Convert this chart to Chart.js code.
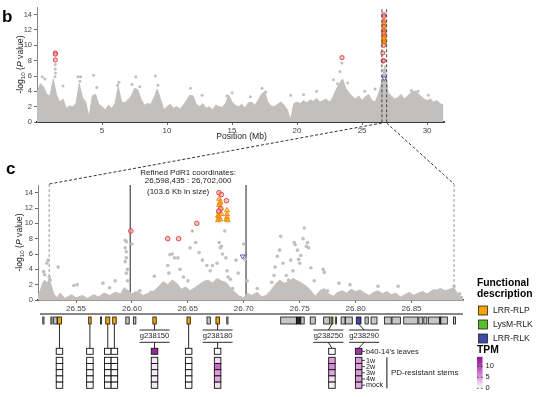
<!DOCTYPE html>
<html>
<head>
<meta charset="utf-8">
<script src="https://cdn.jsdelivr.net/npm/chart.js@4.4.0/dist/chart.umd.min.js"></script>
<style>
  body { margin: 0; background: #fff; }
  #wrap { position: relative; width: 546px; height: 397px; }
  canvas { position: absolute; left: 0; top: 0; }
</style>
</head>
<body>
<div id="wrap">
  <canvas id="chartB" width="546" height="397"></canvas>
  <canvas id="chartC" width="546" height="397"></canvas>
</div>
<script>
// ---- data ----
// panel b: upper edge of the dense SNP cloud (Mb / -log10 P)
const bEnvMb = [0,0.25,0.5,0.75,1,1.25,1.5,1.75,2,2.25,2.5,2.75,3,3.25,3.5,3.75,4,4.25,4.5,4.75,
  5,5.25,5.5,5.75,6,6.25,6.5,6.75,7,7.25,7.5,7.75,8,8.25,8.5,8.75,9,9.25,9.5,9.75,
  10,10.25,10.5,10.75,11,11.25,11.5,11.75,12,12.25,12.5,12.75,13,13.25,13.5,13.75,14,14.25,14.5,14.75,
  15,15.25,15.5,15.75,16,16.25,16.5,16.75,17,17.25,17.5,17.75,18,18.25,18.5,18.75,19,19.25,19.5,19.75,
  20,20.25,20.5,20.75,21,21.25,21.5,21.75,22,22.25,22.5,22.75,23,23.25,23.5,23.75,24,24.25,24.5,24.75,
  25,25.25,25.5,25.75,26,26.25,26.5,26.75,27,27.25,27.5,27.75,28,28.25,28.5,28.75,29,29.25,29.5,29.75,
  30,30.25,30.5,30.75,31,31.25]
const bEnvVal = [3.8,5.0,4.6,3.6,3.4,5.6,3.5,2.6,3.0,1.8,2.1,2.0,2.4,5.0,3.2,2.6,0.6,3.4,3.6,2.3,
  2.0,1.6,2.2,1.8,2.4,4.6,2.6,2.5,2.9,3.4,4.4,4.2,3.0,2.2,2.4,2.3,3.2,4.3,3.0,1.6,
  2.0,2.3,1.8,2.0,1.7,2.2,2.8,3.5,3.4,2.3,2.0,2.4,1.8,2.0,1.6,2.2,2.0,1.9,2.4,3.5,
  2.6,2.2,2.0,2.3,1.8,2.5,2.6,2.2,2.8,3.6,4.0,2.6,2.1,2.0,2.3,2.6,2.2,1.6,0.3,2.4,
  2.6,2.4,2.8,2.5,2.9,2.7,3.1,2.6,2.8,3.0,2.6,3.2,4.2,5.0,5.6,4.4,3.8,3.3,3.0,3.4,
  2.8,3.3,3.6,2.8,2.6,3.6,5.0,7.4,3.8,3.4,3.0,3.2,3.6,3.0,3.4,3.8,4.0,3.8,3.4,3.0,
  2.8,3.0,2.6,2.8,2.4,2.2]
// panel b: isolated grey SNPs above the cloud
const bDotMb  = [0.4,0.6,1.4,1.4,1.42,1.38,2.0,3.15,3.35,3.3,4.35,4.6,6.3,6.2,7.6,7.3,7.9,9.1,9.3,11.8,
  15.0,17.3,17.6,19.5,22.8,23.3,23.45,23.1,23.9,26.55,26.6,26.7,26.55,28.8,29.1,29.3,30.1,12.7,14.6,16.4,20.5,21.5,25.2,26.0]
const bDotVal = [5.9,5.6,7.5,6.9,6.4,5.9,4.7,5.9,5.9,5.3,6.1,4.5,5.2,4.8,5.9,4.9,4.6,6.0,4.8,4.4,
  3.8,4.4,3.9,3.5,5.5,6.6,7.7,5.0,5.1,6.0,7.8,6.8,5.0,4.1,3.9,4.0,3.5,3.5,3.4,3.3,3.6,4.0,4.0,4.3]

// panel c: upper edge of the dense SNP cloud
const cEnvMb = [26.516,26.518,26.52,26.522,26.524,26.526,26.528,26.53,26.533,26.536,26.54,26.546,26.55,26.556,26.56,26.566,
  26.57,26.575,26.58,26.585,26.59,26.593,26.596,26.6,26.605,26.61,26.615,26.62,26.624,26.628,26.632,26.636,26.64,26.644,
  26.648,26.652,26.656,26.66,26.664,26.668,26.672,26.676,26.68,26.684,26.688,26.692,26.696,26.7,26.703,26.707,26.712,
  26.716,26.72,26.724,26.728,26.732,26.736,26.74,26.744,26.748,26.752,26.756,26.76,26.764,26.768,26.772,26.776,26.78,
  26.784,26.788,26.792,26.796,26.8,26.804,26.808,26.812,26.816,26.82,26.824,26.828,26.832,26.836,26.84,26.844,26.848,
  26.852,26.856,26.86,26.864,26.868,26.872,26.876,26.88,26.884,26.888,26.892,26.896]
const cEnvVal = [0.6,1.2,2.2,2.6,2.0,2.8,1.8,0.8,0.3,0.9,0.2,0.7,0.3,0.6,0.2,0.7,
  0.4,0.9,0.6,1.0,0.8,1.6,1.3,0.8,1.1,0.6,0.9,1.2,1.8,2.4,2.0,2.6,2.2,1.4,
  1.7,1.2,1.6,2.0,2.4,2.6,2.2,2.8,2.5,2.3,1.6,1.0,0.5,0.3,0.9,0.6,1.0,
  0.4,0.6,1.2,2.0,2.6,2.2,2.4,2.8,2.5,2.2,1.8,1.2,0.5,1.2,1.5,0.8,0.5,
  1.0,1.2,0.9,1.4,1.1,1.3,0.9,0.6,1.0,1.2,0.8,1.1,0.7,0.9,0.4,0.7,1.0,
  0.6,0.9,1.1,0.8,1.2,1.3,1.5,1.2,1.4,1.6,0.6,0.4]
// panel c: isolated grey SNPs
const cDotMb  = [26.521,26.522,26.524,26.525,26.526,26.527,26.523,26.534,26.548,26.551,26.574,26.58,26.585,
  26.594,26.595,26.594,26.595,26.595,26.594,26.596,26.595,26.596,26.600,26.603,26.607,26.617,26.62,26.63,
  26.632,26.633,26.634,26.636,26.638,26.641,26.643,26.646,26.65,26.652,26.654,26.657,26.66,26.663,26.667,26.67,
  26.672,26.676,26.678,26.679,26.68,26.681,26.683,26.684,26.685,26.686,26.688,26.69,26.693,26.695,26.700,26.701,
  26.703,26.712,26.725,26.727,26.728,26.73,26.732,26.733,26.735,26.738,26.74,26.742,26.744,26.745,26.746,26.748,
  26.749,26.75,26.751,26.753,26.754,26.756,26.757,26.758,26.76,26.763,26.771,26.772,26.775,26.785,26.795,26.82,
  26.838,26.87,26.888,26.893]
const cDotVal = [3.7,3.3,4.8,5.2,3.0,2.6,2.2,4.3,1.9,2.0,2.2,1.6,2.5,
  7.8,7.6,6.8,6.3,5.5,5.0,4.0,3.5,2.5,7.3,0.9,1.2,1.0,3.1,1.8,
  4.5,3.5,5.9,6.0,5.5,5.5,4.0,3.0,2.5,6.8,9.0,7.5,6.2,5.2,4.5,3.8,
  4.5,4.8,7.5,6.8,7.0,6.0,9.0,5.5,3.8,3.0,2.7,1.5,5.2,3.5,7.3,5.3,
  2.5,1.5,2.3,3.2,4.3,5.7,6.5,8.3,4.8,3.2,2.6,5.2,3.8,7.5,7.2,6.5,
  5.3,4.8,5.8,8.0,9.4,7.0,7.5,6.8,4.2,2.5,4.0,3.6,1.2,2.2,2.0,1.8,
  1.8,1.2,1.8,0.8]

// highlighted SNPs (shared by both panels)
const redMb     = [1.41,1.41,1.41,23.46,26.599,26.632,26.6417,26.658,26.6778,26.680,26.6845,26.6795,26.6775]
const redVal    = [9.0,8.85,8.1,8.4,9.0,8.0,8.0,10.0,14.0,13.75,12.95,11.9,11.6]
const orangeMb  = [26.678,26.679,26.678,26.679,26.678,26.677,26.678,26.677,26.679,26.680,26.685,26.685,26.685,26.6845,26.6855,26.6785,26.6775]
const orangeVal = [13.2,12.8,12.4,12.0,11.5,11.0,10.7,10.4,10.5,11.2,11.7,11.2,10.8,10.5,10.4,12.6,10.9]
const blueMb    = [26.699]
const blueVal   = [5.7]

const bTicks = [5,10,15,20,25,30]
const cTicks = [26.55,26.60,26.65,26.70,26.75,26.80,26.85]
const yTicks = [0,2,4,6,8,10,12,14]
const zoomRange = [26.526,26.888]
const refined = [26.598435,26.702]

// gene models under panel c
const geneStart = [26.5203,26.5275,26.5300,26.5335,26.5613,26.5718,26.5766,26.5828,26.5945,26.6014,26.6187,26.6492,
  26.6671,26.6751,26.6848,26.7330,26.7470,26.7510,26.7594,26.7714,26.7780,26.7818,26.7870,26.7910,26.8006,26.8084,
  26.8138,26.8257,26.8325,26.8430,26.8565,26.8610,26.8650,26.8753,26.8762,26.8875]
const geneEnd   = [26.5208,26.5282,26.5330,26.5370,26.5635,26.5724,26.5802,26.5859,26.5975,26.6035,26.6217,26.6522,
  26.6701,26.6782,26.6853,26.7470,26.7510,26.7540,26.7639,26.7768,26.7797,26.7823,26.7905,26.7970,26.8048,26.8113,
  26.8191,26.8318,26.8400,26.8556,26.8600,26.8637,26.8750,26.8759,26.8820,26.8893]
const geneType  = ['other','other','other','LRR-RLP','LRR-RLP','other','LRR-RLP','LRR-RLP','other','other','LRR-RLP','LRR-RLP',
  'other','LRR-RLP','other','other','dark','other','other','other','LysM-RLK','other','other','other','LRR-RLK','other',
  'other','other','other','other','other','other','other','dark','other','other']

// expression heatmap (TPM)
const hmMb     = [26.5352,26.5624,26.5784,26.5843,26.6202,26.6507,26.6766,26.7788,26.8027]
const hmName   = ['','','','','g238150','','g238180','g238250','g238290']
const hmLeaves = [0,0,0,0,12.5,0,0,0,11.5]
const hm1w     = [0,0,0,0,1.2,0,1.8,4.8,5.0]
const hm2w     = [0,0,0,0,1.2,0,7.5,5.8,4.6]
const hm3w     = [0,0,0,0,1.0,0,4.8,4.2,4.6]
const hm4w     = [0,0,0,0,1.0,0,4.2,1.6,5.0]
const hmMock   = [0,0,0,0,1.1,0,1.6,0.8,4.0]
const stemRows = ['1w','2w','3w','4w','mock']

const typeNames  = ['LRR-RLP','LysM-RLK','LRR-RLK']
const typeColors = {'LRR-RLP':'#f5a300','LysM-RLK':'#5bbf2a','LRR-RLK':'#3d4aa6','other':'#c6c6c6','dark':'#222'}

// ---- helpers ----
const FONT = "'Liberation Sans', Arial, Helvetica, sans-serif"
const GRAY = '#c3bfbd'
Chart.defaults.font.family = FONT
Chart.defaults.color = '#444'

const xy = (xs, ys) => xs.map((x, i) => ({x: x, y: ys[i]}))
const inRange = (pts, lo, hi) => pts.filter(p => p.x >= lo && p.x <= hi)

const tpmStops = [[0,[255,255,255]],[4,[228,170,226]],[8,[196,98,196]],[14,[138,20,144]]]
function tpmColor(v) {
  for (let i = 1; i < tpmStops.length; i++) {
    const [v0, c0] = tpmStops[i-1], [v1, c1] = tpmStops[i]
    if (v <= v1 || i === tpmStops.length - 1) {
      const t = Math.max(0, Math.min(1, (v - v0) / (v1 - v0)))
      const c = c0.map((c, k) => Math.round(c + (c1[k] - c) * t))
      return `rgb(${c[0]},${c[1]},${c[2]})`
    }
  }
}

function text(ctx, s, x, y, size, opts = {}) {
  ctx.save()
  ctx.font = `${opts.weight || ''} ${opts.italic ? 'italic' : ''} ${size}px ${FONT}`
  ctx.fillStyle = opts.color || '#222'
  ctx.textAlign = opts.align || 'left'
  ctx.textBaseline = opts.base || 'middle'
  ctx.fillText(s, x, y)
  ctx.restore()
}

// rotated "-log10 (P value)" with subscript and italic P
function yTitle(ctx, cx, cy) {
  const parts = [['-log', 8.6, '', 0], ['10', 6.2, '', 2.2], [' (', 8.6, '', 0], ['P', 8.6, 'italic', 0], [' value)', 8.6, '', 0]]
  ctx.save()
  ctx.translate(cx, cy)
  ctx.rotate(-Math.PI / 2)
  ctx.fillStyle = '#222'
  ctx.textBaseline = 'middle'
  let w = 0
  parts.forEach(p => { ctx.font = `${p[2]} ${p[1]}px ${FONT}`; w += ctx.measureText(p[0]).width })
  let x = -w / 2
  parts.forEach(p => {
    ctx.font = `${p[2]} ${p[1]}px ${FONT}`
    ctx.fillText(p[0], x, p[3])
    x += ctx.measureText(p[0]).width
  })
  ctx.restore()
}

function line(ctx, x0, y0, x1, y1) {
  ctx.beginPath(); ctx.moveTo(x0, y0); ctx.lineTo(x1, y1); ctx.stroke()
}

function xAxis(min, max, ticks, height, fmt, borderW) {
  return {
    type: 'linear', min: min, max: max,
    afterFit: s => { s.height = height },
    afterBuildTicks: s => { s.ticks = ticks.map(v => ({value: v})) },
    grid: {display: true, drawOnChartArea: false, drawTicks: true, tickLength: 3, color: '#444', lineWidth: 0.8},
    border: {display: true, color: '#3a3a3a', width: borderW},
    ticks: {font: {size: 8}, color: '#444', padding: 1, maxRotation: 0, autoSkip: false, callback: fmt}
  }
}
function yAxis(width) {
  return {
    type: 'linear', min: 0, max: 15,
    afterFit: s => { s.width = width },
    afterBuildTicks: s => { s.ticks = yTicks.map(v => ({value: v})) },
    grid: {display: true, drawOnChartArea: false, drawTicks: true, tickLength: 3, color: '#444', lineWidth: 0.8},
    border: {display: true, color: '#666', width: 0.8},
    ticks: {font: {size: 7.5}, color: '#444', padding: 2}
  }
}

function snpDatasets(lo, hi, envMb, envVal, dotMb, dotVal, dotR, hlR) {
  return [
    {type: 'line', data: xy(envMb, envVal), borderColor: GRAY, backgroundColor: GRAY, borderWidth: 1,
     fill: 'origin', pointRadius: 0, tension: 0, order: 5},
    {data: xy(dotMb, dotVal), backgroundColor: GRAY, borderWidth: 0, pointRadius: dotR, order: 4},
    {data: inRange(xy(blueMb, blueVal), lo, hi), pointStyle: 'triangle', rotation: 180, pointRadius: hlR + 0.4,
     borderColor: '#4848b8', backgroundColor: '#fff', borderWidth: 0.9, order: 3},
    {data: inRange(xy(orangeMb, orangeVal), lo, hi), pointStyle: 'triangle', pointRadius: hlR + 0.6,
     borderColor: '#f08400', backgroundColor: 'rgba(248,168,60,0.55)', borderWidth: 0.9, order: 2},
    {data: inRange(xy(redMb, redVal), lo, hi), pointStyle: 'circle', pointRadius: hlR,
     borderColor: '#df3b3b', backgroundColor: 'rgba(240,160,160,0.6)', borderWidth: 0.9, order: 1}
  ]
}

const common = {
  responsive: false, animation: false, devicePixelRatio: 1,
  plugins: {legend: {display: false}, tooltip: {enabled: false}}
}

// ---- panel b ----
const panelB = {
  id: 'panelB',
  afterDraw(chart) {
    const {ctx, chartArea: a, scales: {x, y}} = chart
    ctx.save()
    ctx.strokeStyle = '#444'; ctx.lineWidth = 1; ctx.setLineDash([3, 2])
    zoomRange.forEach(m => line(ctx, x.getPixelForValue(m), y.getPixelForValue(14.7), x.getPixelForValue(m), a.bottom))
    ctx.restore()
    text(ctx, 'b', 2, 22, 17, {weight: 'bold', base: 'alphabetic', color: '#000'})
    text(ctx, 'Position (Mb)', (a.left + a.right) / 2 + 1, 137, 8.6, {align: 'center'})
    yTitle(ctx, 21, (a.top + a.bottom) / 2)
  }
}

const bChart = new Chart(document.getElementById('chartB'), {
  type: 'scatter',
  data: {datasets: snpDatasets(0, 31.3, bEnvMb, bEnvVal, bDotMb, bDotVal, 1.5, 2.1)},
  options: {...common,
    layout: {padding: {left: 0, top: 7, right: 102, bottom: 0}},
    scales: {x: xAxis(0, 31.3, bTicks, 275, v => v, 2), y: yAxis(37)}
  },
  plugins: [panelB]
})

// ---- panel c + genes + heatmap + legends ----
const TRACK_Y = 314, GENE_TOP = 317, GENE_H = 7
const CELL_W = 6.5, LEAF_Y = 348.3, STEM_Y = 357.3, CELL_H = 6.2
const labelShift = {g238250: -3.5, g238290: 5.5}

const panelC = {
  id: 'panelC',
  beforeDatasetsDraw(chart) {
    const {ctx, chartArea: a, scales: {x}} = chart
    ctx.save()
    ctx.strokeStyle = '#9a9a9a'; ctx.lineWidth = 1; ctx.setLineDash([3, 2])
    zoomRange.forEach(m => line(ctx, x.getPixelForValue(m), a.top - 1, x.getPixelForValue(m), a.bottom))
    ctx.setLineDash([]); ctx.strokeStyle = '#222'
    refined.forEach(m => line(ctx, x.getPixelForValue(m), a.top, x.getPixelForValue(m), a.bottom))
    ctx.restore()
  },
  afterDraw(chart) {
    const {ctx, chartArea: a, scales: {x}} = chart
    const bx = bChart.scales.x, ba = bChart.chartArea

    // connectors from the dashed window in panel b
    ctx.save()
    ctx.strokeStyle = '#333'; ctx.lineWidth = 1; ctx.setLineDash([3, 2])
    zoomRange.forEach(m => line(ctx, bx.getPixelForValue(m), ba.bottom + 1, x.getPixelForValue(m), a.top - 1))
    ctx.restore()

    text(ctx, 'c', 6, 174, 17, {weight: 'bold', base: 'alphabetic', color: '#000'})
    yTitle(ctx, 20, (a.top + a.bottom) / 2)

    const mid = (x.getPixelForValue(refined[0]) + x.getPixelForValue(refined[1])) / 2
    text(ctx, 'Refined PdR1 coordinates:', mid, 172.5, 8, {align: 'center'})
    text(ctx, '26,598,435 : 26,702,000', mid, 180.5, 8, {align: 'center'})
    text(ctx, '(103.6 Kb in size)', mid - 10, 191.5, 8, {align: 'center'})

    // gene track
    ctx.save()
    ctx.strokeStyle = '#111'; ctx.lineWidth = 1
    line(ctx, a.left + 2, TRACK_Y, a.right, TRACK_Y)
    geneStart.forEach((s, i) => {
      const x0 = x.getPixelForValue(s), x1 = x.getPixelForValue(geneEnd[i])
      const w = Math.max(x1 - x0, 1.2)
      ctx.fillStyle = typeColors[geneType[i]]
      ctx.fillRect(x0, GENE_TOP, w, GENE_H)
      ctx.lineWidth = 0.8; ctx.strokeStyle = '#111'
      ctx.strokeRect(x0, GENE_TOP, w, GENE_H)
    })

    // heatmap columns
    const stems = [hm1w, hm2w, hm3w, hm4w, hmMock]
    let lastRight = 0
    hmMb.forEach((m, j) => {
      const cx = x.getPixelForValue(m)
      ctx.strokeStyle = '#111'; ctx.lineWidth = 0.9
      const name = hmName[j]
      if (name) {
        const lx = cx + (labelShift[name] || 0)
        line(ctx, cx, GENE_TOP + GENE_H, lx, 330)
        line(ctx, lx - 15, 330, lx + 15, 330)
        line(ctx, lx - 15, 342.3, lx + 15, 342.3)
        line(ctx, lx, 342.3, cx, LEAF_Y)
        text(ctx, name, lx, 336.3, 7.6, {align: 'center'})
      } else {
        line(ctx, cx, GENE_TOP + GENE_H, cx, LEAF_Y)
      }
      ctx.fillStyle = tpmColor(hmLeaves[j])
      ctx.fillRect(cx - CELL_W / 2, LEAF_Y, CELL_W, 6)
      ctx.strokeRect(cx - CELL_W / 2, LEAF_Y, CELL_W, 6)
      stems.forEach((row, k) => {
        const yy = STEM_Y + k * CELL_H
        ctx.fillStyle = tpmColor(row[j])
        ctx.fillRect(cx - CELL_W / 2, yy, CELL_W, CELL_H)
        ctx.strokeRect(cx - CELL_W / 2, yy, CELL_W, CELL_H)
      })
      lastRight = cx + CELL_W / 2
    })
    // row labels of the heatmap
    ctx.lineWidth = 0.8
    line(ctx, lastRight, LEAF_Y + 3, lastRight + 3, LEAF_Y + 3)
    text(ctx, "b40-14's leaves", lastRight + 4, LEAF_Y + 3.3, 7.6)
    stemRows.forEach((r, k) => {
      const yy = STEM_Y + k * CELL_H + CELL_H / 2
      line(ctx, lastRight, yy, lastRight + 3, yy)
      text(ctx, r, lastRight + 4, yy + 0.3, 7.2)
    })
    ctx.lineWidth = 1
    line(ctx, lastRight + 25, STEM_Y, lastRight + 25, STEM_Y + 5 * CELL_H)
    text(ctx, 'PD-resistant stems', lastRight + 29, STEM_Y + 2.5 * CELL_H, 8)
    ctx.restore()

    // functional description legend
    text(ctx, 'Functional', 477, 283, 10.3, {weight: 'bold', color: '#000'})
    text(ctx, 'description', 477, 294.5, 10.3, {weight: 'bold', color: '#000'})
    typeNames.forEach((t, i) => {
      const yy = 306 + i * 14
      ctx.fillStyle = typeColors[t]
      ctx.fillRect(478.5, yy, 9, 9)
      ctx.strokeStyle = '#222'; ctx.lineWidth = 0.8
      ctx.strokeRect(478.5, yy, 9, 9)
      text(ctx, t, 493, yy + 4.8, 8.6)
    })

    // TPM colour bar
    text(ctx, 'TPM', 477, 350.5, 10.3, {weight: 'bold', color: '#000'})
    const y0 = 388.3, perT = 2.2, top = y0 - 14.3 * perT
    const g = ctx.createLinearGradient(0, y0, 0, top)
    tpmStops.forEach(s => g.addColorStop(s[0] / 14, tpmColor(s[0])))
    ctx.fillStyle = g
    ctx.fillRect(477, top, 5.5, y0 - top)
    ctx.save()
    ctx.strokeStyle = '#222'; ctx.lineWidth = 0.8
    ;[0, 5, 10].forEach(v => {
      const yy = y0 - v * perT
      line(ctx, 477, yy, 478.6, yy)
      line(ctx, 480.9, yy, 482.5, yy)
      text(ctx, String(v), 485.5, yy, 7.5)
    })
    ctx.restore()
  }
}

const cChart = new Chart(document.getElementById('chartC'), {
  type: 'scatter',
  data: {datasets: snpDatasets(26.516, 26.896, cEnvMb, cEnvVal, cDotMb, cDotVal, 1.8, 2.3)},
  options: {...common,
    layout: {padding: {left: 0, top: 185, right: 83, bottom: 0}},
    scales: {x: xAxis(26.516, 26.896, cTicks, 97, v => v.toFixed(2), 1.6), y: yAxis(38)}
  },
  plugins: [panelC]
})
</script>
</body>
</html>
